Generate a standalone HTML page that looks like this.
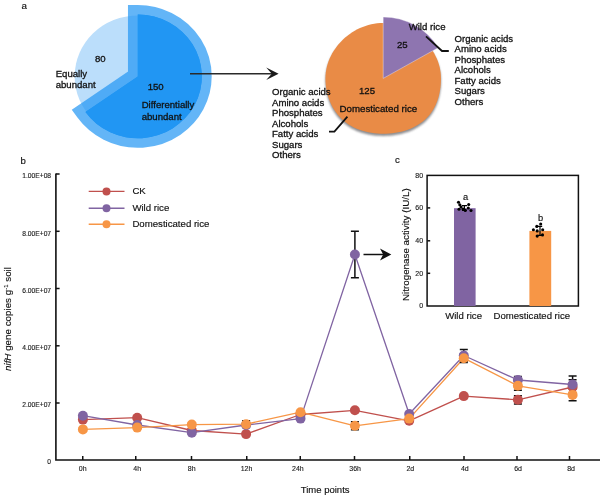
<!DOCTYPE html><html><head><meta charset="utf-8"><style>html,body{margin:0;padding:0;background:#fff;}svg{display:block;will-change:transform;}</style></head><body>
<svg width="600" height="497" viewBox="0 0 600 497" font-family='"Liberation Sans", Arial, sans-serif' fill="#111">
<rect width="600" height="497" fill="#fff"/>
<text x="21.5" y="8.9" font-size="9.8" text-anchor="start" stroke="#111" stroke-width="0.15" >a</text>
<g transform="translate(137.8 76.4) scale(1.035 1)">
<circle r="61" fill="#bbdefb"/>
<path d="M0 0 L0.000 -61.900 A61.9 61.9 0 1 1 -50.570 35.697 Z" fill="#2196f3" stroke="rgba(33,150,243,0.7)" stroke-width="19.0" stroke-linejoin="miter" stroke-miterlimit="10"/>
<path d="M0 0 L0.000 -61.900 A61.9 61.9 0 1 1 -50.570 35.697 Z" fill="#2196f3"/>
</g>
<text x="94.9" y="61.7" font-size="9.6" text-anchor="start" stroke="#111" stroke-width="0.3" >80</text>
<text x="55.7" y="77" font-size="9.6" text-anchor="start" stroke="#111" stroke-width="0.3" >Equally</text>
<text x="55.7" y="88.3" font-size="9.6" text-anchor="start" stroke="#111" stroke-width="0.3" >abundant</text>
<text x="147.7" y="90" font-size="9.6" text-anchor="start" stroke="#111" stroke-width="0.3" >150</text>
<text x="141.7" y="108" font-size="9.6" text-anchor="start" stroke="#111" stroke-width="0.3" >Differentially</text>
<text x="141.7" y="119.7" font-size="9.6" text-anchor="start" stroke="#111" stroke-width="0.3" >abundant</text>
<line x1="190" y1="73.75" x2="272" y2="73.75" stroke="#2a2a2a" stroke-width="1.7"/>
<path d="M278.6 73.75 L266.2 67.5 L271.8 73.75 L266.2 80 Z" fill="#1a1a1a"/>
<defs><filter id="sh" x="-20%" y="-20%" width="140%" height="140%"><feGaussianBlur stdDeviation="1.1"/></filter></defs>
<g transform="translate(383.2 78.4) scale(1.035 1)">
<path d="M55.80 2.20 L55.75 5.12 L55.59 8.04 L55.32 10.96 L54.93 13.88 L54.42 16.78 L53.77 19.67 L52.98 22.54 L52.04 25.37 L50.94 28.15 L49.67 30.87 L48.23 33.52 L46.62 36.07 L44.84 38.51 L42.90 40.82 L40.80 43.00 L38.57 45.03 L36.20 46.90 L33.72 48.61 L31.14 50.15 L28.48 51.53 L25.75 52.75 L22.98 53.81 L20.16 54.71 L17.31 55.48 L14.45 56.11 L11.57 56.62 L8.68 57.01 L5.79 57.28 L2.90 57.45 L0.00 57.50 L-2.90 57.44 L-5.79 57.28 L-8.68 56.99 L-11.56 56.59 L-14.43 56.05 L-17.28 55.38 L-20.10 54.56 L-22.88 53.60 L-25.62 52.48 L-28.29 51.21 L-30.89 49.77 L-33.41 48.18 L-35.82 46.43 L-38.12 44.54 L-40.30 42.50 L-42.35 40.33 L-44.26 38.04 L-46.02 35.64 L-47.64 33.14 L-49.10 30.55 L-50.42 27.89 L-51.58 25.16 L-52.59 22.39 L-53.46 19.57 L-54.18 16.72 L-54.77 13.84 L-55.22 10.95 L-55.54 8.04 L-55.74 5.12 L-55.80 2.20 L-55.71 -0.72 L-55.46 -3.63 L-55.04 -6.52 L-54.45 -9.37 L-53.70 -12.19 L-52.80 -14.96 L-51.75 -17.67 L-50.56 -20.31 L-49.24 -22.89 L-47.78 -25.39 L-46.21 -27.81 L-44.52 -30.15 L-42.72 -32.39 L-40.82 -34.55 L-38.82 -36.62 L-36.73 -38.59 L-34.54 -40.46 L-32.27 -42.22 L-29.92 -43.87 L-27.49 -45.41 L-24.98 -46.83 L-22.40 -48.12 L-19.76 -49.28 L-17.06 -50.29 L-14.30 -51.17 L-11.50 -51.89 L-8.66 -52.46 L-5.79 -52.87 L-2.90 -53.12 L-0.00 -53.20 L2.90 -53.12 L5.79 -52.87 L8.66 -52.46 L11.50 -51.89 L14.30 -51.17 L17.06 -50.29 L19.76 -49.28 L22.40 -48.12 L24.98 -46.83 L27.49 -45.41 L29.92 -43.87 L32.27 -42.22 L34.54 -40.46 L36.73 -38.59 L38.82 -36.62 L40.82 -34.55 L42.72 -32.39 L44.52 -30.15 L46.21 -27.81 L47.78 -25.39 L49.24 -22.89 L50.56 -20.31 L51.75 -17.67 L52.80 -14.96 L53.70 -12.19 L54.45 -9.37 L55.04 -6.52 L55.46 -3.63 L55.71 -0.72 Z" fill="#78787c" opacity="0.85" filter="url(#sh)"/>
<path d="M55.80 0.00 L55.75 2.92 L55.59 5.84 L55.32 8.76 L54.93 11.68 L54.42 14.58 L53.77 17.47 L52.98 20.34 L52.04 23.17 L50.94 25.95 L49.67 28.67 L48.23 31.32 L46.62 33.87 L44.84 36.31 L42.90 38.62 L40.80 40.80 L38.57 42.83 L36.20 44.70 L33.72 46.41 L31.14 47.95 L28.48 49.33 L25.75 50.55 L22.98 51.61 L20.16 52.51 L17.31 53.28 L14.45 53.91 L11.57 54.42 L8.68 54.81 L5.79 55.08 L2.90 55.25 L0.00 55.30 L-2.90 55.24 L-5.79 55.08 L-8.68 54.79 L-11.56 54.39 L-14.43 53.85 L-17.28 53.18 L-20.10 52.36 L-22.88 51.40 L-25.62 50.28 L-28.29 49.01 L-30.89 47.57 L-33.41 45.98 L-35.82 44.23 L-38.12 42.34 L-40.30 40.30 L-42.35 38.13 L-44.26 35.84 L-46.02 33.44 L-47.64 30.94 L-49.10 28.35 L-50.42 25.69 L-51.58 22.96 L-52.59 20.19 L-53.46 17.37 L-54.18 14.52 L-54.77 11.64 L-55.22 8.75 L-55.54 5.84 L-55.74 2.92 L-55.80 0.00 L-55.71 -2.92 L-55.46 -5.83 L-55.04 -8.72 L-54.45 -11.57 L-53.70 -14.39 L-52.80 -17.16 L-51.75 -19.87 L-50.56 -22.51 L-49.24 -25.09 L-47.78 -27.59 L-46.21 -30.01 L-44.52 -32.35 L-42.72 -34.59 L-40.82 -36.75 L-38.82 -38.82 L-36.73 -40.79 L-34.54 -42.66 L-32.27 -44.42 L-29.92 -46.07 L-27.49 -47.61 L-24.98 -49.03 L-22.40 -50.32 L-19.76 -51.48 L-17.06 -52.49 L-14.30 -53.37 L-11.50 -54.09 L-8.66 -54.66 L-5.79 -55.07 L-2.90 -55.32 L-0.00 -55.40 L2.90 -55.32 L5.79 -55.07 L8.66 -54.66 L11.50 -54.09 L14.30 -53.37 L17.06 -52.49 L19.76 -51.48 L22.40 -50.32 L24.98 -49.03 L27.49 -47.61 L29.92 -46.07 L32.27 -44.42 L34.54 -42.66 L36.73 -40.79 L38.82 -38.82 L40.82 -36.75 L42.72 -34.59 L44.52 -32.35 L46.21 -30.01 L47.78 -27.59 L49.24 -25.09 L50.56 -22.51 L51.75 -19.87 L52.80 -17.16 L53.70 -14.39 L54.45 -11.57 L55.04 -8.72 L55.46 -5.83 L55.71 -2.92 Z" fill="#e98b46"/>
<path d="M0 0 L0.000 -61.400 A61.4 61.4 0 0 1 53.174 -30.700 Z" fill="#8e75b0" stroke="#fff" stroke-width="0.6" stroke-opacity="0.6"/>
</g>
<text x="408.7" y="30.3" font-size="9.6" text-anchor="start" stroke="#111" stroke-width="0.3" >Wild rice</text>
<text x="397" y="47.7" font-size="9.6" text-anchor="start" stroke="#111" stroke-width="0.3" >25</text>
<text x="359" y="93.8" font-size="9.6" text-anchor="start" stroke="#111" stroke-width="0.3" >125</text>
<text x="339.6" y="112" font-size="9.7" text-anchor="start" stroke="#111" stroke-width="0.3" >Domesticated rice</text>
<polyline points="426,36.3 442,51 448.8,51" fill="none" stroke="#111" stroke-width="1.8"/>
<polyline points="347.4,116.6 334.4,131.6 329,131.6" fill="none" stroke="#111" stroke-width="1.8"/>
<text x="454.5" y="41.6" font-size="9.6" text-anchor="start" stroke="#111" stroke-width="0.3" >Organic acids</text>
<text x="454.5" y="52.1" font-size="9.6" text-anchor="start" stroke="#111" stroke-width="0.3" >Amino acids</text>
<text x="454.5" y="62.6" font-size="9.6" text-anchor="start" stroke="#111" stroke-width="0.3" >Phosphates</text>
<text x="454.5" y="73.1" font-size="9.6" text-anchor="start" stroke="#111" stroke-width="0.3" >Alcohols</text>
<text x="454.5" y="83.6" font-size="9.6" text-anchor="start" stroke="#111" stroke-width="0.3" >Fatty acids</text>
<text x="454.5" y="94.1" font-size="9.6" text-anchor="start" stroke="#111" stroke-width="0.3" >Sugars</text>
<text x="454.5" y="104.6" font-size="9.6" text-anchor="start" stroke="#111" stroke-width="0.3" >Others</text>
<text x="272" y="95.0" font-size="9.6" text-anchor="start" stroke="#111" stroke-width="0.3" >Organic acids</text>
<text x="272" y="105.53" font-size="9.6" text-anchor="start" stroke="#111" stroke-width="0.3" >Amino acids</text>
<text x="272" y="116.06" font-size="9.6" text-anchor="start" stroke="#111" stroke-width="0.3" >Phosphates</text>
<text x="272" y="126.59" font-size="9.6" text-anchor="start" stroke="#111" stroke-width="0.3" >Alcohols</text>
<text x="272" y="137.12" font-size="9.6" text-anchor="start" stroke="#111" stroke-width="0.3" >Fatty acids</text>
<text x="272" y="147.65" font-size="9.6" text-anchor="start" stroke="#111" stroke-width="0.3" >Sugars</text>
<text x="272" y="158.18" font-size="9.6" text-anchor="start" stroke="#111" stroke-width="0.3" >Others</text>
<text x="20.6" y="163.5" font-size="9.6" text-anchor="start" stroke="#111" stroke-width="0.15" >b</text>
<path d="M55.9 173.4 V460 H600" fill="none" stroke="#111" stroke-width="1.6"/>
<line x1="55.9" y1="174" x2="59.6" y2="174" stroke="#111" stroke-width="1.5"/>
<text x="51.1" y="178.2" font-size="6.7" text-anchor="end" stroke="#111" stroke-width="0.12" fill="#222">1.00E+08</text>
<line x1="55.9" y1="231.3" x2="59.6" y2="231.3" stroke="#111" stroke-width="1.5"/>
<text x="51.1" y="235.5" font-size="6.7" text-anchor="end" stroke="#111" stroke-width="0.12" fill="#222">8.00E+07</text>
<line x1="55.9" y1="288.5" x2="59.6" y2="288.5" stroke="#111" stroke-width="1.5"/>
<text x="51.1" y="292.7" font-size="6.7" text-anchor="end" stroke="#111" stroke-width="0.12" fill="#222">6.00E+07</text>
<line x1="55.9" y1="345.8" x2="59.6" y2="345.8" stroke="#111" stroke-width="1.5"/>
<text x="51.1" y="350.0" font-size="6.7" text-anchor="end" stroke="#111" stroke-width="0.12" fill="#222">4.00E+07</text>
<line x1="55.9" y1="403" x2="59.6" y2="403" stroke="#111" stroke-width="1.5"/>
<text x="51.1" y="407.2" font-size="6.7" text-anchor="end" stroke="#111" stroke-width="0.12" fill="#222">2.00E+07</text>
<text x="51.1" y="463.7" font-size="6.7" text-anchor="end" stroke="#111" stroke-width="0.12" fill="#222">0</text>
<line x1="82.75" y1="460" x2="82.75" y2="456" stroke="#111" stroke-width="1.5"/>
<text x="82.7" y="470.6" font-size="7" text-anchor="middle" stroke="#111" stroke-width="0.12" fill="#222">0h</text>
<line x1="135.75" y1="460" x2="135.75" y2="456" stroke="#111" stroke-width="1.5"/>
<text x="137.2" y="470.6" font-size="7" text-anchor="middle" stroke="#111" stroke-width="0.12" fill="#222">4h</text>
<line x1="191.5" y1="460" x2="191.5" y2="456" stroke="#111" stroke-width="1.5"/>
<text x="191.7" y="470.6" font-size="7" text-anchor="middle" stroke="#111" stroke-width="0.12" fill="#222">8h</text>
<line x1="246.75" y1="460" x2="246.75" y2="456" stroke="#111" stroke-width="1.5"/>
<text x="246.5" y="470.6" font-size="7" text-anchor="middle" stroke="#111" stroke-width="0.12" fill="#222">12h</text>
<line x1="300.25" y1="460" x2="300.25" y2="456" stroke="#111" stroke-width="1.5"/>
<text x="297.9" y="470.6" font-size="7" text-anchor="middle" stroke="#111" stroke-width="0.12" fill="#222">24h</text>
<line x1="354.5" y1="460" x2="354.5" y2="456" stroke="#111" stroke-width="1.5"/>
<text x="355.1" y="470.6" font-size="7" text-anchor="middle" stroke="#111" stroke-width="0.12" fill="#222">36h</text>
<line x1="409.75" y1="460" x2="409.75" y2="456" stroke="#111" stroke-width="1.5"/>
<text x="410.3" y="470.6" font-size="7" text-anchor="middle" stroke="#111" stroke-width="0.12" fill="#222">2d</text>
<line x1="464" y1="460" x2="464" y2="456" stroke="#111" stroke-width="1.5"/>
<text x="464.8" y="470.6" font-size="7" text-anchor="middle" stroke="#111" stroke-width="0.12" fill="#222">4d</text>
<line x1="517" y1="460" x2="517" y2="456" stroke="#111" stroke-width="1.5"/>
<text x="518.1" y="470.6" font-size="7" text-anchor="middle" stroke="#111" stroke-width="0.12" fill="#222">6d</text>
<line x1="569.5" y1="460" x2="569.5" y2="456" stroke="#111" stroke-width="1.5"/>
<text x="571.1" y="470.6" font-size="7" text-anchor="middle" stroke="#111" stroke-width="0.12" fill="#222">8d</text>
<text x="300.8" y="493" font-size="9.5" text-anchor="start" stroke="#111" stroke-width="0.15" >Time points</text>
<text transform="translate(11.4 371) rotate(-90)" font-size="9.8" stroke="#111" stroke-width="0.15"><tspan font-style="italic">nifH</tspan> gene copies g<tspan font-size="6" dy="-3.5">-1</tspan><tspan dy="3.5"> soil</tspan></text>
<line x1="88.7" y1="191.4" x2="124.5" y2="191.4" stroke="#c0504d" stroke-width="1.4"/>
<circle cx="106.5" cy="191.4" r="4" fill="#c0504d"/>
<text x="132.4" y="194.35" font-size="9.65" text-anchor="start" stroke="#111" stroke-width="0.15" >CK</text>
<line x1="88.7" y1="208.2" x2="124.5" y2="208.2" stroke="#8064a2" stroke-width="1.4"/>
<circle cx="106.5" cy="208.2" r="4" fill="#8064a2"/>
<text x="132.4" y="211.14999999999998" font-size="9.65" text-anchor="start" stroke="#111" stroke-width="0.15" >Wild rice</text>
<line x1="88.7" y1="224.3" x2="124.5" y2="224.3" stroke="#f79646" stroke-width="1.4"/>
<circle cx="106.5" cy="224.3" r="4" fill="#f79646"/>
<text x="132.4" y="227.25" font-size="9.65" text-anchor="start" stroke="#111" stroke-width="0.15" >Domesticated rice</text>
<polyline points="82.9,419.6 137.2,417.7 191.8,430.5 246.1,434.1 300.5,414.5 354.9,410.3 409.2,420.8 463.8,396.1 517.9,399.8 572.6,387.0" fill="none" stroke="#c0504d" stroke-width="1.3" stroke-linejoin="round"/>
<polyline points="82.9,415.7 137.2,425.0 191.8,432.7 246.1,425.0 300.5,418.6 354.9,254.5 409.2,414.0 463.8,355.5 517.9,380.0 572.6,384.5" fill="none" stroke="#8064a2" stroke-width="1.3" stroke-linejoin="round"/>
<polyline points="82.9,429.4 137.2,427.6 191.8,424.6 246.1,424.2 300.5,412.2 354.9,425.8 409.2,418.6 463.8,358.2 517.9,385.8 572.6,394.9" fill="none" stroke="#f79646" stroke-width="1.3" stroke-linejoin="round"/>
<path d="M517.9 395.7 V403.90000000000003 M513.9 395.7 H521.9 M513.9 403.90000000000003 H521.9" stroke="#111" stroke-width="1.5" fill="none"/>
<path d="M572.6 379.7 V394.3 M568.6 379.7 H576.6 M568.6 394.3 H576.6" stroke="#111" stroke-width="1.5" fill="none"/>
<path d="M354.9 231.2 V277.8 M350.9 231.2 H358.9 M350.9 277.8 H358.9" stroke="#111" stroke-width="1.5" fill="none"/>
<path d="M463.8 349.5 V361.5 M459.8 349.5 H467.8 M459.8 361.5 H467.8" stroke="#111" stroke-width="1.5" fill="none"/>
<path d="M517.9 376.4 V383.6 M513.9 376.4 H521.9 M513.9 383.6 H521.9" stroke="#111" stroke-width="1.5" fill="none"/>
<path d="M572.6 376.0 V393.0 M568.6 376.0 H576.6 M568.6 393.0 H576.6" stroke="#111" stroke-width="1.5" fill="none"/>
<path d="M246.1 420.8 V427.59999999999997 M242.1 420.8 H250.1 M242.1 427.59999999999997 H250.1" stroke="#111" stroke-width="1.5" fill="none"/>
<path d="M354.9 421.8 V429.8 M350.9 421.8 H358.9 M350.9 429.8 H358.9" stroke="#111" stroke-width="1.5" fill="none"/>
<path d="M463.8 353.8 V362.59999999999997 M459.8 353.8 H467.8 M459.8 362.59999999999997 H467.8" stroke="#111" stroke-width="1.5" fill="none"/>
<path d="M517.9 381.3 V390.3 M513.9 381.3 H521.9 M513.9 390.3 H521.9" stroke="#111" stroke-width="1.5" fill="none"/>
<path d="M572.6 389.0 V400.79999999999995 M568.6 389.0 H576.6 M568.6 400.79999999999995 H576.6" stroke="#111" stroke-width="1.5" fill="none"/>
<circle cx="82.9" cy="419.6" r="5" fill="#c0504d"/>
<circle cx="137.2" cy="417.7" r="5" fill="#c0504d"/>
<circle cx="191.8" cy="430.5" r="5" fill="#c0504d"/>
<circle cx="246.1" cy="434.1" r="5" fill="#c0504d"/>
<circle cx="300.5" cy="414.5" r="5" fill="#c0504d"/>
<circle cx="354.9" cy="410.3" r="5" fill="#c0504d"/>
<circle cx="409.2" cy="420.8" r="5" fill="#c0504d"/>
<circle cx="463.8" cy="396.1" r="5" fill="#c0504d"/>
<circle cx="517.9" cy="399.8" r="5" fill="#c0504d"/>
<circle cx="572.6" cy="387.0" r="5" fill="#c0504d"/>
<circle cx="82.9" cy="415.7" r="5" fill="#8064a2"/>
<circle cx="137.2" cy="425.0" r="5" fill="#8064a2"/>
<circle cx="191.8" cy="432.7" r="5" fill="#8064a2"/>
<circle cx="246.1" cy="425.0" r="5" fill="#8064a2"/>
<circle cx="300.5" cy="418.6" r="5" fill="#8064a2"/>
<circle cx="354.9" cy="254.5" r="5" fill="#8064a2"/>
<circle cx="409.2" cy="414.0" r="5" fill="#8064a2"/>
<circle cx="463.8" cy="355.5" r="5" fill="#8064a2"/>
<circle cx="517.9" cy="380.0" r="5" fill="#8064a2"/>
<circle cx="572.6" cy="384.5" r="5" fill="#8064a2"/>
<circle cx="82.9" cy="429.4" r="5" fill="#f79646"/>
<circle cx="137.2" cy="427.6" r="5" fill="#f79646"/>
<circle cx="191.8" cy="424.6" r="5" fill="#f79646"/>
<circle cx="246.1" cy="424.2" r="5" fill="#f79646"/>
<circle cx="300.5" cy="412.2" r="5" fill="#f79646"/>
<circle cx="354.9" cy="425.8" r="5" fill="#f79646"/>
<circle cx="409.2" cy="418.6" r="5" fill="#f79646"/>
<circle cx="463.8" cy="358.2" r="5" fill="#f79646"/>
<circle cx="517.9" cy="385.8" r="5" fill="#f79646"/>
<circle cx="572.6" cy="394.9" r="5" fill="#f79646"/>
<line x1="363.5" y1="254.5" x2="385" y2="254.5" stroke="#111" stroke-width="1.5"/>
<path d="M391.3 254.5 L380 248.5 L383.2 254.5 L380 260.5 Z" fill="#111"/>
<text x="395" y="163.4" font-size="9.5" text-anchor="start" stroke="#111" stroke-width="0.15" >c</text>
<rect x="427.1" y="175.4" width="151.3" height="130.6" fill="none" stroke="#111" stroke-width="1.5"/>
<text x="423.1" y="177.5" font-size="7" text-anchor="end" stroke="#111" stroke-width="0.12" fill="#222">80</text>
<line x1="427.2" y1="207.9" x2="430.2" y2="207.9" stroke="#111" stroke-width="1.5"/>
<text x="423.1" y="210.1" font-size="7" text-anchor="end" stroke="#111" stroke-width="0.12" fill="#222">60</text>
<line x1="427.2" y1="240.8" x2="430.2" y2="240.8" stroke="#111" stroke-width="1.5"/>
<text x="423.1" y="243.0" font-size="7" text-anchor="end" stroke="#111" stroke-width="0.12" fill="#222">40</text>
<line x1="427.2" y1="273.3" x2="430.2" y2="273.3" stroke="#111" stroke-width="1.5"/>
<text x="423.1" y="275.5" font-size="7" text-anchor="end" stroke="#111" stroke-width="0.12" fill="#222">20</text>
<text x="423.1" y="308.0" font-size="7" text-anchor="end" stroke="#111" stroke-width="0.12" fill="#222">0</text>
<rect x="454" y="208.2" width="21.6" height="97.8" fill="#8064a2"/>
<rect x="529.4" y="230.9" width="21.8" height="75.1" fill="#f79646"/>
<text transform="translate(408.7 301) rotate(-90)" font-size="9.8" stroke="#111" stroke-width="0.15">Nitrogenase activity (IU/L)</text>
<text x="462.9" y="199.6" font-size="9.3" text-anchor="start" stroke="#111" stroke-width="0.15" >a</text>
<text x="537.9" y="220.6" font-size="9.3" text-anchor="start" stroke="#111" stroke-width="0.15" >b</text>
<text x="445.2" y="318.7" font-size="9.6" text-anchor="start" stroke="#111" stroke-width="0.15" >Wild rice</text>
<text x="493.6" y="318.8" font-size="9.55" text-anchor="start" stroke="#111" stroke-width="0.15" >Domesticated rice</text>
<path d="M464.4 205.7 V210.3 M461.8 205.7 H467 M462 210.3 H466.8" stroke="#000" stroke-width="1.2" fill="none"/>
<path d="M540 226.4 V235.4 M537.8 226.4 H542.2 M537.8 235.4 H542.2" stroke="#000" stroke-width="1.2" fill="none"/>
<circle cx="458.5" cy="202.2" r="1.55" fill="#000"/>
<circle cx="459.8" cy="204.7" r="1.55" fill="#000"/>
<circle cx="461" cy="207" r="1.55" fill="#000"/>
<circle cx="459" cy="209.3" r="1.55" fill="#000"/>
<circle cx="468.7" cy="204.5" r="1.55" fill="#000"/>
<circle cx="468.3" cy="208" r="1.55" fill="#000"/>
<circle cx="471" cy="210.5" r="1.55" fill="#000"/>
<circle cx="463" cy="209" r="1.55" fill="#000"/>
<circle cx="465.3" cy="210.4" r="1.55" fill="#000"/>
<circle cx="540.7" cy="224" r="1.55" fill="#000"/>
<circle cx="536.8" cy="226.4" r="1.55" fill="#000"/>
<circle cx="533.4" cy="229.7" r="1.55" fill="#000"/>
<circle cx="542.7" cy="229.7" r="1.55" fill="#000"/>
<circle cx="537.2" cy="230.9" r="1.55" fill="#000"/>
<circle cx="542.5" cy="234.9" r="1.55" fill="#000"/>
<circle cx="537.2" cy="236.1" r="1.55" fill="#000"/>
</svg></body></html>
